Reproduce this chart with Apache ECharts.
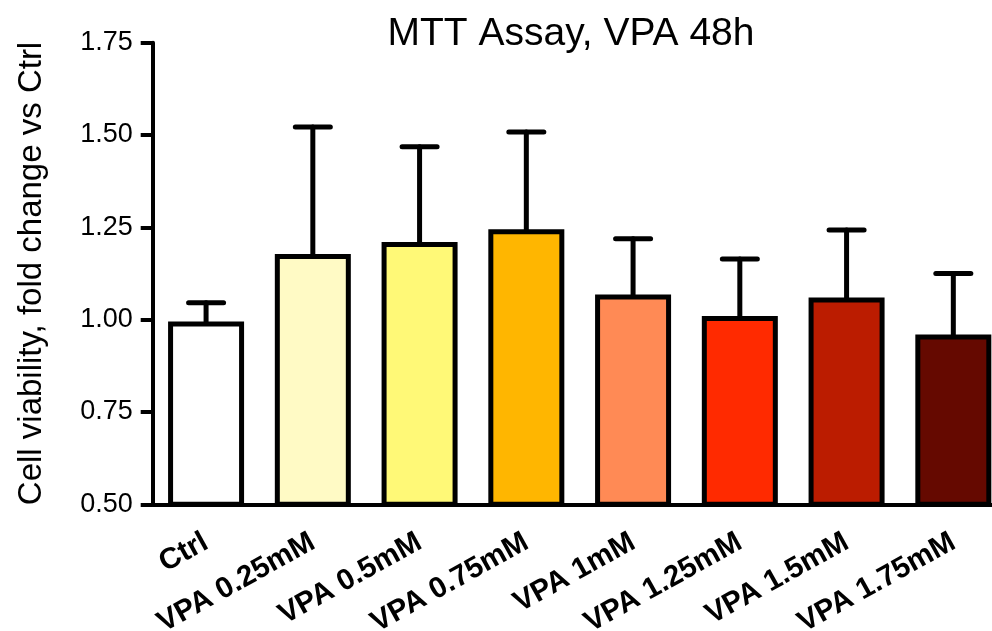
<!DOCTYPE html>
<html>
<head>
<meta charset="utf-8">
<script src="https://cdn.jsdelivr.net/npm/echarts@6/dist/echarts.min.js"></script>
<style>html,body{margin:0;padding:0;background:#fff;}#chart{width:992px;height:631px;}</style>
</head>
<body>
<div id="chart"></div>
<script>
const categories = ['Ctrl', 'VPA 0.25mM', 'VPA 0.5mM', 'VPA 0.75mM', 'VPA 1mM', 'VPA 1.25mM', 'VPA 1.5mM', 'VPA 1.75mM'];
const means = [0.995, 1.178, 1.210, 1.245, 1.068, 1.010, 1.060, 0.960];
const upperErr = [1.046, 1.522, 1.468, 1.508, 1.219, 1.164, 1.243, 1.125];
const barColors = ['#FFFFFF', '#FFFAC5', '#FFF977', '#FFB600', '#FF8A55', '#FF2A00', '#BB1C00', '#650900'];
const yTicks = [0.5, 0.75, 1.0, 1.25, 1.5, 1.75];

const FONT = "'Liberation Sans', Arial, Helvetica, sans-serif";
const chart = echarts.init(document.getElementById('chart'));
chart.setOption({
  animation: false,
  backgroundColor: '#fff',
  title: {
    text: 'MTT Assay, VPA 48h',
    left: 566,
    textAlign: 'center',
    top: 10,
    textStyle: { fontFamily: FONT, fontSize: 39, fontWeight: 'normal', color: '#000' }
  },
  grid: { left: 152.7, right: -14.7, top: 42.7, bottom: 126.7, containLabel: false, outerBoundsMode: 'none' },
  xAxis: {
    type: 'category',
    data: categories,
    axisLine: { lineStyle: { color: '#000', width: 4 } },
    axisTick: { alignWithLabel: true, length: 12, lineStyle: { color: '#000', width: 4 } },
    axisLabel: { rotate: 29, interval: 0, margin: 36, color: '#000', fontFamily: FONT, fontSize: 29.5, fontWeight: 'bold' }
  },
  yAxis: {
    type: 'value',
    min: yTicks[0],
    max: yTicks[yTicks.length - 1],
    interval: 0.25,
    name: 'Cell viability, fold change vs Ctrl',
    nameLocation: 'middle',
    nameGap: 104,
    nameTextStyle: { fontFamily: FONT, fontSize: 33, color: '#000' },
    axisLine: { show: true, lineStyle: { color: '#000', width: 4 } },
    axisTick: { show: true, length: 12, lineStyle: { color: '#000', width: 4 } },
    splitLine: { show: false },
    axisLabel: { color: '#000', fontFamily: FONT, fontSize: 27, margin: 20, formatter: v => v.toFixed(2) }
  },
  series: [
    {
      type: 'custom',
      z: 1,
      data: categories.map((c, i) => [i, means[i], upperErr[i]]),
      renderItem: function (params, api) {
        const i = api.value(0);
        const base = api.coord([i, api.value(1)]);
        const top = api.coord([i, api.value(2)]);
        const hw = 17.5;
        const style = { stroke: '#000', lineWidth: 5, lineCap: 'round' };
        return {
          type: 'group',
          children: [
            { type: 'line', shape: { x1: base[0], y1: base[1], x2: top[0], y2: top[1] }, style: style },
            { type: 'line', shape: { x1: top[0] - hw, y1: top[1], x2: top[0] + hw, y2: top[1] }, style: style }
          ]
        };
      }
    },
    {
      type: 'bar',
      z: 2,
      barWidth: 76,
      data: means.map((v, i) => ({ value: v, itemStyle: { color: barColors[i] } })),
      itemStyle: { borderColor: '#000', borderWidth: 5 }
    }
  ]
});
</script>
</body>
</html>
